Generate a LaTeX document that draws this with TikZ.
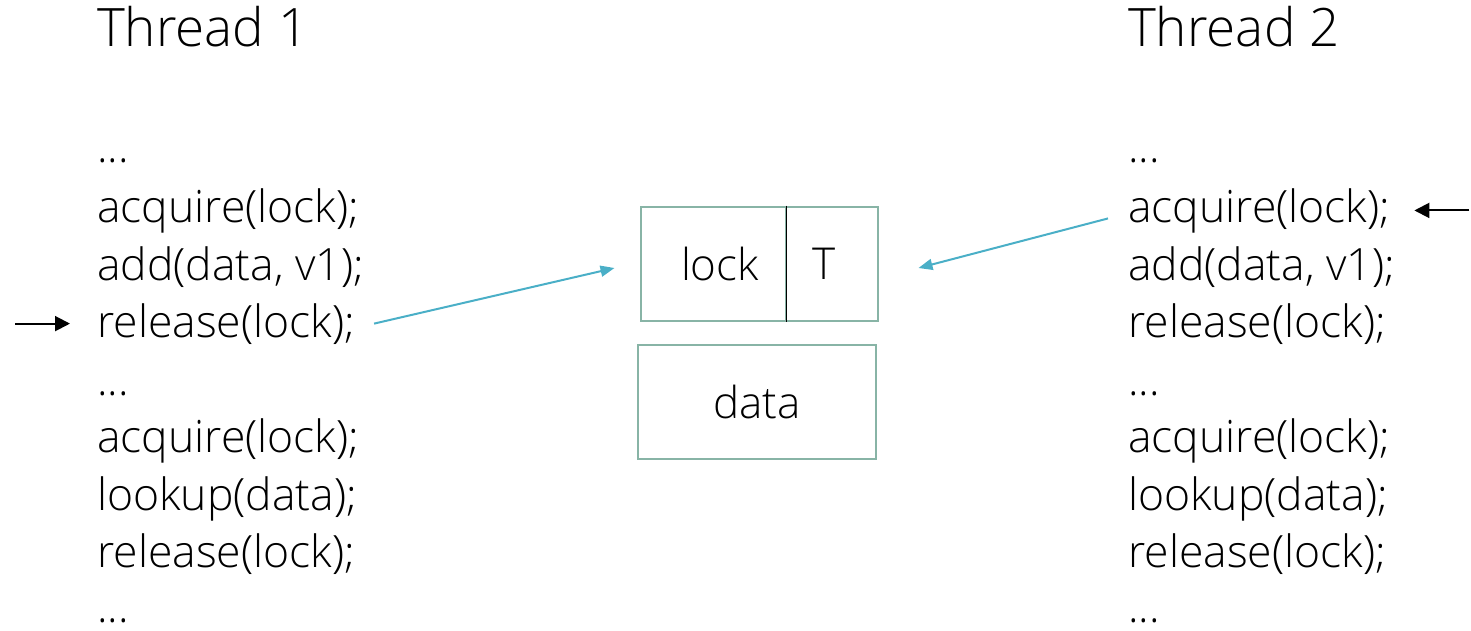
\documentclass[tikz,border=0pt]{standalone}
\usepackage{fontspec}
\setmainfont{Open Sans}[UprightFont={* Light}]
\usetikzlibrary{arrows.meta}
\definecolor{boxgreen}{HTML}{88B4A6}
\definecolor{ptrblue}{HTML}{4AAFC7}
\tikzset{
  code/.style={anchor=base west, inner sep=0pt, font=\fontsize{44.5}{50}\selectfont},
  title/.style={anchor=base west, inner sep=0pt, font=\fontsize{53}{60}\selectfont},
  cell/.style={draw=boxgreen, line width=2pt, minimum height=114pt, inner sep=0pt, font=\fontsize{44}{50}\selectfont},
  ptr/.style={draw=ptrblue, line width=2pt, -{Triangle[length=14pt,width=11pt]}},
  pc/.style={line width=2pt, -{Triangle[length=15pt,width=15pt]}}
}
\begin{document}
\begin{tikzpicture}[x=1pt,y=-1pt]
\useasboundingbox (0,0) rectangle (1471,631);
% thread 1
\node[title] (t1) at (97,47) {Thread 1};
\node[code] (a0) at (97,163) {...};
\node[code] (a1) at (97,222) {acquire(lock);};
\node[code] (a2) at (97,280) {add(data, v1);};
\node[code] (a3) at (97,337) {release(lock);};
\node[code] (a4) at (97,395) {...};
\node[code] (a5) at (97,452) {acquire(lock);};
\node[code] (a6) at (97,510) {lookup(data);};
\node[code] (a7) at (97,567) {release(lock);};
\node[code] (a8) at (97,622) {...};
% thread 2
\node[title] (t2) at (1128,47) {Thread 2};
\node[code] (b0) at (1128,163) {...};
\node[code] (b1) at (1128,222) {acquire(lock);};
\node[code] (b2) at (1128,280) {add(data, v1);};
\node[code] (b3) at (1128,337) {release(lock);};
\node[code] (b4) at (1128,395) {...};
\node[code] (b5) at (1128,452) {acquire(lock);};
\node[code] (b6) at (1128,510) {lookup(data);};
\node[code] (b7) at (1128,567) {release(lock);};
\node[code] (b8) at (1128,622) {...};
% shared lock and data
\node[cell, minimum width=145pt] (lock) at (713,263.5) {\hspace*{14pt}lock};
\node[cell, minimum width=92pt] (owner) at (831.5,263.5) {\hspace*{-14pt}T};
\draw[line width=1.6pt] (lock.north east) -- (lock.south east);
\node[cell, minimum width=238pt] (data) at (757,402) {data};
% who holds the lock
\draw[ptr] ([xshift=19pt]a3.east) -- ([xshift=-25pt,yshift=-4.5pt]lock.west);
\draw[ptr] ([xshift=-20pt,yshift=-8pt]b1.west) -- ([xshift=40pt,yshift=-4.5pt]owner.east);
% program counters
\coordinate (pc1) at ([xshift=-82pt]a3.west);
\coordinate (pc2) at ([xshift=79pt]b1.east);
\draw[pc] (pc1) -- ([xshift=-27pt]a3.west);
\draw[pc] (pc2) -- ([xshift=24pt]b1.east);
\end{tikzpicture}
\end{document}
